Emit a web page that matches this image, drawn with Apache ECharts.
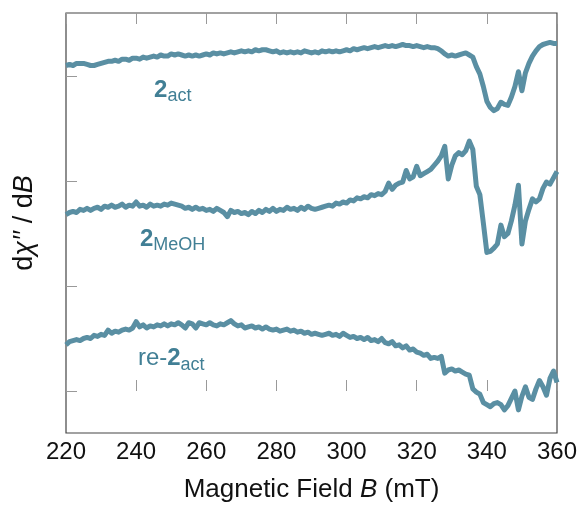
<!DOCTYPE html>
<html>
<head>
<meta charset="utf-8">
<script src="https://cdn.jsdelivr.net/npm/echarts@6/dist/echarts.min.js"></script>
<style>
  html, body { margin: 0; padding: 0; background: #fff; }
  #chart { width: 582px; height: 508px; }
</style>
</head>
<body>
<div id="chart"></div>
<script>
// magnetic field (mT), shared by all three spectra
const field = [
  220, 221, 222, 223, 224, 225, 226, 227, 228, 229,
  230, 231, 232, 233, 234, 235, 236, 237, 238, 239,
  240, 241, 242, 243, 244, 245, 246, 247, 248, 249,
  250, 251, 252, 253, 254, 255, 256, 257, 258, 259,
  260, 261, 262, 263, 264, 265, 266, 267, 268, 269,
  270, 271, 272, 273, 274, 275, 276, 277, 278, 279,
  280, 281, 282, 283, 284, 285, 286, 287, 288, 289,
  290, 291, 292, 293, 294, 295, 296, 297, 298, 299,
  300, 301, 302, 303, 304, 305, 306, 307, 308, 309,
  310, 311, 312, 313, 314, 315, 316, 317, 318, 319,
  320, 321, 322, 323, 324, 325, 326, 327, 328, 329,
  330, 331, 332, 333, 334, 335, 336, 337, 338, 339,
  340, 341, 342, 343, 344, 345, 346, 347, 348, 349,
  350, 351, 352, 353, 354, 355, 356, 357, 358, 359,
  360
];

// 2act (offset trace, arbitrary units)
const act = [
  3.10, 3.11, 3.10, 3.12, 3.12, 3.12, 3.11, 3.10, 3.10, 3.11,
  3.12, 3.13, 3.14, 3.14, 3.15, 3.14, 3.16, 3.16, 3.15, 3.17,
  3.17, 3.16, 3.18, 3.17, 3.18, 3.19, 3.18, 3.20, 3.19, 3.19,
  3.21, 3.20, 3.21, 3.20, 3.19, 3.20, 3.19, 3.20, 3.19, 3.20,
  3.21, 3.20, 3.22, 3.21, 3.22, 3.21, 3.22, 3.23, 3.22, 3.23,
  3.24, 3.23, 3.24, 3.23, 3.25, 3.24, 3.25, 3.25, 3.24, 3.23,
  3.24, 3.22, 3.23, 3.22, 3.23, 3.22, 3.23, 3.22, 3.24, 3.23,
  3.22, 3.23, 3.22, 3.24, 3.23, 3.24, 3.23, 3.24, 3.23, 3.24,
  3.25, 3.24, 3.26, 3.25, 3.26, 3.27, 3.26, 3.27, 3.28, 3.27,
  3.28, 3.29, 3.28, 3.29, 3.28, 3.29, 3.30, 3.29, 3.29, 3.28,
  3.29, 3.28, 3.27, 3.28, 3.27, 3.27, 3.26, 3.24, 3.21, 3.19,
  3.20, 3.19, 3.20, 3.21, 3.22, 3.20, 3.18, 3.09, 3.02, 2.90,
  2.76, 2.70, 2.67, 2.69, 2.75, 2.73, 2.72, 2.80, 2.90, 3.04,
  2.86, 3.03, 3.12, 3.19, 3.24, 3.28, 3.30, 3.31, 3.32, 3.31,
  3.31
];

// 2MeOH
const meoh = [
  1.68, 1.70, 1.71, 1.70, 1.73, 1.72, 1.74, 1.72, 1.74, 1.75,
  1.73, 1.76, 1.75, 1.77, 1.75, 1.76, 1.78, 1.75, 1.77, 1.76,
  1.80, 1.76, 1.77, 1.75, 1.78, 1.76, 1.77, 1.76, 1.78, 1.77,
  1.79, 1.78, 1.77, 1.76, 1.74, 1.75, 1.73, 1.75, 1.73, 1.74,
  1.72, 1.73, 1.71, 1.74, 1.72, 1.70, 1.66, 1.72, 1.70, 1.71,
  1.69, 1.70, 1.68, 1.71, 1.69, 1.72, 1.70, 1.73, 1.71, 1.74,
  1.71, 1.73, 1.72, 1.75, 1.73, 1.74, 1.72, 1.75, 1.73, 1.76,
  1.74, 1.73, 1.74, 1.75, 1.76, 1.77, 1.76, 1.79, 1.78, 1.80,
  1.79, 1.82, 1.81, 1.84, 1.83, 1.85, 1.84, 1.87, 1.86, 1.88,
  1.87, 1.90, 1.98, 1.92, 1.96, 1.98, 1.99, 2.10, 2.02, 2.04,
  2.14, 2.05, 2.07, 2.09, 2.11, 2.15, 2.19, 2.24, 2.33, 2.02,
  2.15, 2.24, 2.27, 2.25, 2.29, 2.38, 2.30, 1.95, 1.87, 1.60,
  1.32, 1.33, 1.36, 1.40, 1.58, 1.47, 1.50, 1.62, 1.77, 1.96,
  1.40, 1.62, 1.73, 1.83, 1.80, 1.83, 1.93, 1.99, 1.97, 2.03,
  2.09
];

// re-2act
const reAct = [
  0.44, 0.47, 0.48, 0.49, 0.48, 0.50, 0.51, 0.50, 0.53, 0.52,
  0.54, 0.53, 0.58, 0.55, 0.57, 0.56, 0.58, 0.59, 0.58, 0.60,
  0.66, 0.61, 0.63, 0.60, 0.62, 0.61, 0.63, 0.62, 0.64, 0.62,
  0.64, 0.63, 0.65, 0.63, 0.60, 0.65, 0.64, 0.60, 0.65, 0.64,
  0.63, 0.65, 0.63, 0.62, 0.64, 0.63, 0.65, 0.67, 0.64, 0.62,
  0.63, 0.60, 0.61, 0.62, 0.60, 0.61, 0.59, 0.61, 0.59, 0.58,
  0.59, 0.57, 0.58, 0.59, 0.57, 0.58, 0.56, 0.57, 0.55, 0.56,
  0.54, 0.55, 0.54, 0.53, 0.54, 0.55, 0.53, 0.54, 0.52, 0.55,
  0.53, 0.51, 0.52, 0.50, 0.51, 0.49, 0.51, 0.48, 0.49, 0.47,
  0.50, 0.46, 0.45, 0.47, 0.43, 0.44, 0.41, 0.43, 0.39, 0.40,
  0.37, 0.36, 0.34, 0.35, 0.31, 0.32, 0.31, 0.33, 0.17, 0.20,
  0.21, 0.19, 0.20, 0.18, 0.16, 0.15, 0.02, -0.01, -0.03, -0.11,
  -0.13, -0.15, -0.12, -0.11, -0.13, -0.18, -0.14, -0.07, 0.00, -0.18,
  -0.05, 0.04, -0.06, -0.08, 0.02, 0.10, 0.04, -0.04, 0.12, 0.19,
  0.08
];

const xTicks = [220, 240, 260, 280, 300, 320, 340, 360];
const yTicks = [0, 1, 2, 3];

// sample labels: rich text, anchor [field, level]
const labelTexts = ['{b|2}{s|act}', '{b|2}{s|MeOH}', '{r|re-}{b|2}{s|act}'];
const labelField = [245.1, 241.1, 240.5];
const labelLevel = [2.866, 1.448, 0.309];

const lineColor = '#5a8fa3';
const textColor = '#417f95';
const font = 'Liberation Sans, Arial, Helvetica, sans-serif';

const chart = echarts.init(document.getElementById('chart'));

const richStyles = {
  b: { fontSize: 24, fontWeight: 'bold', color: textColor, fontFamily: font, lineHeight: 30 },
  r: { fontSize: 24, color: textColor, fontFamily: font, lineHeight: 30 },
  s: { fontSize: 18, color: textColor, fontFamily: font, lineHeight: 19, verticalAlign: 'bottom' }
};

const traces = [act, meoh, reAct];

const series = traces.map((vals, i) => ({
  type: 'line',
  data: field.map((b, k) => [b, vals[k]]),
  showSymbol: false,
  symbol: 'none',
  lineStyle: { color: lineColor, width: 5, join: 'round' },
  animation: false,
  markPoint: {
    symbol: 'circle',
    symbolSize: 0,
    animation: false,
    silent: true,
    data: [{
      coord: [labelField[i], labelLevel[i]],
      label: {
        show: true,
        position: 'right',
        distance: 0,
        formatter: labelTexts[i],
        rich: richStyles
      }
    }]
  }
}));

const tickStyle = { inside: true, length: 11, lineStyle: { color: '#999', width: 1 } };

const option = {
  animation: false,
  grid: {
    left: 66, right: 25, top: 13, bottom: 71,
    show: true, borderColor: '#444', borderWidth: 1.2
  },
  xAxis: [
    {
      type: 'value', min: 220, max: 360, interval: 20,
      axisLine: { show: false },
      axisTick: tickStyle,
      splitLine: { show: false },
      axisLabel: {
        fontSize: 24, color: '#111', fontFamily: font, margin: 7,
        customValues: xTicks
      },
      name: 'Magnetic Field {i|B} (mT)',
      nameLocation: 'middle',
      nameGap: 44,
      nameTextStyle: {
        fontSize: 26, color: '#111', fontFamily: font,
        rich: { i: { fontSize: 26, fontStyle: 'italic', color: '#111', fontFamily: font } }
      }
    },
    {
      type: 'value', min: 220, max: 360, interval: 20, position: 'top',
      axisLine: { show: false },
      axisTick: tickStyle,
      axisLabel: { show: false },
      splitLine: { show: false }
    }
  ],
  yAxis: {
    type: 'value', min: -0.4, max: 3.6,
    axisLine: { show: false },
    axisTick: Object.assign({ customValues: yTicks }, tickStyle),
    axisLabel: { show: false },
    splitLine: { show: false },
    name: 'd{i|χ′′} / d{i|B}',
    nameLocation: 'middle',
    nameGap: 28,
    nameRotate: 90,
    nameTextStyle: {
      fontSize: 27, color: '#111', fontFamily: font,
      rich: { i: { fontSize: 27, fontStyle: 'italic', color: '#111', fontFamily: font } }
    }
  },
  series: series
};

chart.setOption(option);
</script>
</body>
</html>
